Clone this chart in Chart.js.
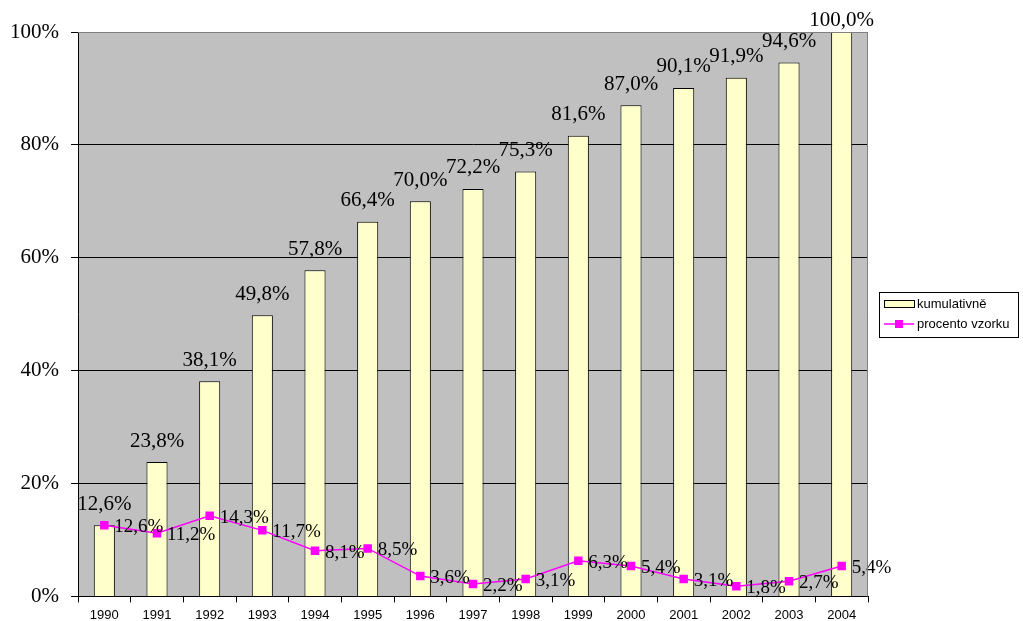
<!DOCTYPE html>
<html>
<head>
<meta charset="utf-8">
<script src="https://cdn.jsdelivr.net/npm/chart.js@4.4.1/dist/chart.umd.min.js"></script>
<style>
    body { margin: 0; background: #fff; }
    canvas { display: block; }
</style>
</head>
<body>
<canvas id="chart" width="1023" height="621"></canvas>
<script>
// values
const years = ["1990", "1991", "1992", "1993", "1994", "1995", "1996", "1997", "1998", "1999", "2000", "2001", "2002", "2003", "2004"];
const cumulative = [12.6, 23.8, 38.1, 49.8, 57.8, 66.4, 70.0, 72.2, 75.3, 81.6, 87.0, 90.1, 91.9, 94.6, 100.0];
const sharePerYear = [12.6, 11.2, 14.3, 11.7, 8.1, 8.5, 3.6, 2.2, 3.1, 6.3, 5.4, 3.1, 1.8, 2.7, 5.4];
const yTicks = [0, 20, 40, 60, 80, 100];
const legendLabels = ["kumulativně", "procento vzorku"];

const serif = '"Liberation Serif", "Times New Roman", serif';
const sans = '"Liberation Sans", Arial, sans-serif';

function fmt(v) {
    return v.toFixed(1).replace(".", ",") + "%";
}

// gray plot background + gray frame on top/right
const plotBg = {
    id: "plotBg",
    beforeDraw(chart) {
        const { ctx, chartArea: a } = chart;
        ctx.save();
        ctx.fillStyle = "#C0C0C0";
        ctx.fillRect(a.left, a.top, a.right - a.left, a.bottom - a.top);
        ctx.restore();
    },
    afterDraw(chart) {
        const { ctx, chartArea: a } = chart;
        ctx.save();
        ctx.strokeStyle = "#808080";
        ctx.lineWidth = 1;
        ctx.beginPath();
        ctx.moveTo(a.left, a.top + 0.5);
        ctx.lineTo(a.right - 0.5, a.top + 0.5);
        ctx.lineTo(a.right - 0.5, a.bottom);
        ctx.stroke();
        ctx.restore();
    }
};

// value labels for both series
const valueLabels = {
    id: "valueLabels",
    afterDatasetsDraw(chart) {
        const ctx = chart.ctx;
        ctx.save();
        ctx.fillStyle = "#000";

        const bars = chart.getDatasetMeta(0).data;
        ctx.font = "21px " + serif;
        ctx.textAlign = "center";
        ctx.textBaseline = "middle";
        bars.forEach((el, i) => {
            const y = Math.max(el.y - 21, 20);
            ctx.fillText(fmt(cumulative[i]), el.x, y);
        });

        const pts = chart.getDatasetMeta(1).data;
        ctx.font = "19px " + serif;
        ctx.textAlign = "left";
        pts.forEach((el, i) => {
            ctx.fillText(fmt(sharePerYear[i]), el.x + 10, el.y + 2);
        });
        ctx.restore();
    }
};

// Excel-like boxed legend on the right
const boxLegend = {
    id: "boxLegend",
    afterDraw(chart) {
        const ctx = chart.ctx;
        const x = 879, y = 292, w = 139, h = 45;
        ctx.save();
        ctx.fillStyle = "#fff";
        ctx.fillRect(x, y, w, h);
        ctx.strokeStyle = "#000";
        ctx.lineWidth = 1;
        ctx.strokeRect(x + 0.5, y + 0.5, w, h);

        // bar swatch
        ctx.fillStyle = "#FFFFCC";
        ctx.fillRect(884, 300, 30, 8);
        ctx.strokeRect(884.5, 300.5, 30, 7);

        // line swatch
        ctx.strokeStyle = "#FF00FF";
        ctx.lineWidth = 1.5;
        ctx.beginPath();
        ctx.moveTo(884, 324);
        ctx.lineTo(914, 324);
        ctx.stroke();
        ctx.fillStyle = "#FF00FF";
        ctx.fillRect(895, 320, 8, 8);

        ctx.fillStyle = "#000";
        ctx.font = "13px " + sans;
        ctx.textAlign = "left";
        ctx.textBaseline = "middle";
        ctx.fillText(legendLabels[0], 917, 304);
        ctx.fillText(legendLabels[1], 917, 324);
        ctx.restore();
    }
};

const ctx = document.getElementById("chart").getContext("2d");
new Chart(ctx, {
    data: {
        labels: years,
        datasets: [
            {
                type: "bar",
                label: legendLabels[0],
                data: cumulative,
                backgroundColor: "#FFFFCC",
                borderColor: "#000",
                borderWidth: 1,
                categoryPercentage: 1,
                barPercentage: 0.4,
                order: 1
            },
            {
                type: "line",
                label: legendLabels[1],
                data: sharePerYear,
                borderColor: "#FF00FF",
                borderWidth: 1.5,
                backgroundColor: "#FF00FF",
                pointStyle: "rect",
                pointRadius: 6,
                pointBorderWidth: 0,
                tension: 0,
                fill: false,
                order: 0
            }
        ]
    },
    options: {
        responsive: false,
        animation: false,
        layout: { padding: { top: 32, right: 155, left: 0, bottom: 0 } },
        plugins: {
            legend: { display: false },
            tooltip: { enabled: false }
        },
        scales: {
            x: {
                offset: true,
                afterFit(scale) { scale.height = 24; },
                grid: {
                    offset: true,
                    drawOnChartArea: false,
                    drawTicks: true,
                    tickLength: 6,
                    color: "#000"
                },
                border: { color: "#000", width: 1 },
                ticks: {
                    color: "#000",
                    font: { family: sans, size: 13 },
                    padding: 5,
                    maxRotation: 0
                }
            },
            y: {
                min: 0,
                max: 100,
                afterFit(scale) { scale.width = 78; },
                afterBuildTicks(scale) {
                    scale.ticks = yTicks.map(v => ({ value: v }));
                },
                grid: {
                    color: c => (c.tick && c.tick.value === 100 ? "#808080" : "#000"),
                    tickColor: "#000",
                    tickLength: 7,
                    lineWidth: 1
                },
                border: { color: "#000", width: 1 },
                ticks: {
                    color: "#000",
                    font: { family: serif, size: 21 },
                    padding: 12,
                    callback: v => v + "%"
                }
            }
        }
    },
    plugins: [plotBg, valueLabels, boxLegend]
});
</script>
</body>
</html>
